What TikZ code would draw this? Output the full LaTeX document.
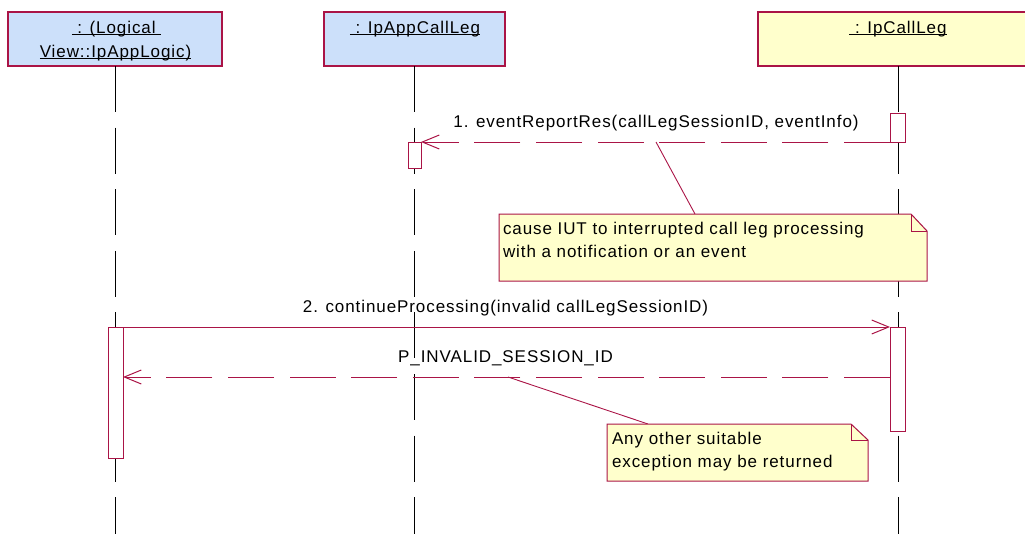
\documentclass[tikz,border=0pt]{standalone}
\usepackage{fontspec}
\setmainfont{Liberation Sans}[LetterSpace=5.4]
\usetikzlibrary{arrows.meta}
\definecolor{rose}{RGB}{170,20,70}
\definecolor{hdrblue}{RGB}{204,224,250}
\definecolor{noteyel}{RGB}{255,255,204}
\newsavebox\ulsave
\newcommand\ulbox[1]{\sbox\ulsave{#1}\rlap{\rule[-2.4pt]{\wd\ulsave}{1.1pt}}\usebox\ulsave}
\begin{document}
\begin{tikzpicture}[x=1pt,y=-1pt,
  every node/.style={inner sep=0pt, outer sep=0pt},
  txt/.style={font=\fontsize{17}{23}\selectfont, text=black, anchor=base},
  hdr/.style={draw=rose, line width=1.2pt, minimum height=54pt, anchor=north west},
  lifeline/.style={draw=black, line width=0.9pt, dash pattern=on 46pt off 15.6pt},
  actbox/.style={draw=rose, fill=white, line width=1pt, anchor=north},
  call/.style={draw=rose, line width=1pt, -{Straight Barb[length=17pt,width=14pt]}},
  reply/.style={call, dash pattern=on 46pt off 15.6pt},
  notebox/.style={draw=rose, fill=noteyel, line width=1pt},
  notelink/.style={draw=rose, line width=0.9pt}]
\useasboundingbox (0,0) rectangle (1025,533);
\clip (0,0) rectangle (1025,533);

% object headers
\node[hdr, fill=hdrblue, minimum width=214pt] (h1) at (8,12) {};
\node[hdr, fill=hdrblue, minimum width=181pt] (h2) at (324,12) {};
\node[hdr, fill=noteyel, minimum width=280pt] (h3) at (758,12) {};

% lifelines
\draw[lifeline] (h1.south) -- ++(0,470);
\draw[lifeline] (h2.south) -- ++(0,470);
\draw[lifeline] (h3.south) -- ++(0,470);

% activations
\node[actbox, minimum width=15pt, minimum height=29pt] (r1) at (897.5,113) {};
\node[actbox, minimum width=13pt, minimum height=26pt] (a2) at (414.5,142) {};
\node[actbox, minimum width=15pt, minimum height=131pt] (l1) at (115.5,327) {};
\node[actbox, minimum width=15pt, minimum height=104pt] (r2) at (897.5,327) {};

% messages
\draw[reply] (r1.south west) -- (a2.north east);
\draw[call] (l1.north east) -- (r2.north west);
\draw[reply] ([yshift=-50pt]r2.north west) -- ([yshift=-50pt]l1.north east);

\node[txt] (m1) at (656,127) {1. eventReportRes(callLegSessionID, eventInfo)};
\node[txt] (m2) at (505.5,312) {2. continueProcessing(invalid callLegSessionID)};
\node[txt] (m3) at (505.5,362) {P\_INVALID\_SESSION\_ID};

% notes
\node[minimum width=428pt, minimum height=67pt, anchor=north west] (n1) at (499,214) {};
\node[minimum width=261pt, minimum height=57pt, anchor=north west] (n2) at (607,424) {};
\coordinate (c1) at (656,142);
\coordinate (c2) at (508,377);
\draw[notelink] (c1) -- ([xshift=196pt]n1.north west);
\draw[notelink] (c2) -- ([xshift=41pt]n2.north west);

\draw[notebox] (n1.north west) -- ([xshift=-16pt]n1.north east) -- ([yshift=-17pt]n1.north east)
  -- (n1.south east) -- (n1.south west) -- cycle;
\draw[notebox, fill=none] ([xshift=-16pt]n1.north east) |- ([yshift=-17pt]n1.north east);
\node[txt, anchor=base west] (n1a) at (503,234) {cause IUT to interrupted call leg processing};
\node[txt, anchor=base west] (n1b) at (503,257) {with a notification or an event};

\draw[notebox] (n2.north west) -- ([xshift=-17pt]n2.north east) -- ([yshift=-16pt]n2.north east)
  -- (n2.south east) -- (n2.south west) -- cycle;
\draw[notebox, fill=none] ([xshift=-17pt]n2.north east) |- ([yshift=-16pt]n2.north east);
\node[txt, anchor=base west] (n2a) at (612,444) {Any other suitable};
\node[txt, anchor=base west] (n2b) at (612,467) {exception may be returned};

% header labels
\node[txt] (t1a) at (116.5,33) {\ulbox{\ : (Logical\ }};
\node[txt] (t1b) at (115.5,57) {\ulbox{View::IpAppLogic)}};
\node[txt] (t2) at (415,33) {\ulbox{\ : IpAppCallLeg}};
\node[txt] (t3) at (898,33) {\ulbox{\ : IpCallLeg}};
\end{tikzpicture}
\end{document}
